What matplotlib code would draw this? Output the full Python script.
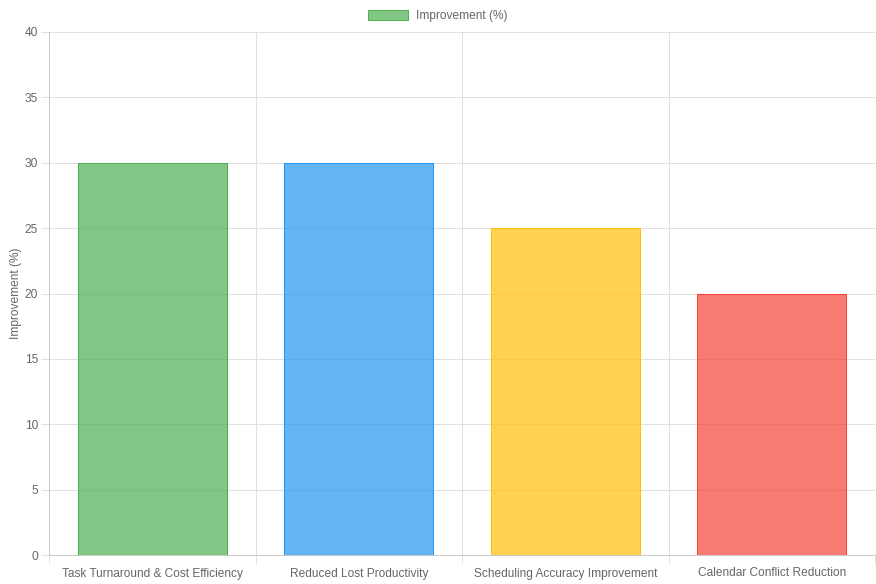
import matplotlib.pyplot as plt
from matplotlib.patches import Patch

plt.rcParams['font.family'] = ['Liberation Sans', 'DejaVu Sans']

# data
categories = ['Task Turnaround & Cost Efficiency', 'Reduced Lost Productivity',
              'Scheduling Accuracy Improvement', 'Calendar Conflict Reduction']
improvement = [30, 30, 25, 20]
y_ticks = [0, 5, 10, 15, 20, 25, 30, 35, 40]

fill_colors = [(76/255, 175/255, 80/255, 0.7), (33/255, 150/255, 243/255, 0.7),
               (255/255, 193/255, 7/255, 0.7), (244/255, 67/255, 54/255, 0.7)]
edge_colors = ['#4CAF50', '#2196F3', '#FFC107', '#F44336']

W, H = 876, 584
fig = plt.figure(figsize=(W / 100, H / 100), dpi=100)
# plot area in pixels: x 49..875, y 32..555
ax = fig.add_axes([49 / W, (H - 555) / H, (875 - 49) / W, (555 - 32) / H])
ax.set_axisbelow(True)

px = 0.72  # one pixel in points

x = range(len(categories))
ax.bar(x, improvement, width=0.72, color=fill_colors, edgecolor=edge_colors, linewidth=px, zorder=2)

ax.set_xlim(-0.5, len(categories) - 0.5)
ax.set_ylim(0, 40)
ax.set_yticks(y_ticks)
ax.set_xticks(list(x))
ax.set_xticklabels(categories)
ax.set_xticks([i - 0.5 for i in range(len(categories) + 1)], minor=True)

txt = '#666666'
grid_c = '#e0e0e0'
fs = 8.6
ax.tick_params(axis='x', which='major', length=0, pad=9, labelsize=fs, labelcolor=txt)
ax.tick_params(axis='x', which='minor', length=6, color=grid_c, width=px)
ax.tick_params(axis='y', length=6, color=grid_c, width=px, pad=2, labelsize=fs, labelcolor=txt)

ax.grid(True, axis='y', color=grid_c, linewidth=px, alpha=1)
ax.grid(True, axis='x', which='minor', color=grid_c, linewidth=px, alpha=1)

for side in ['top', 'right']:
    ax.spines[side].set_visible(False)
for side in ['left', 'bottom']:
    ax.spines[side].set_color('#c8c8c8')
    ax.spines[side].set_linewidth(px)

ax.set_ylabel('Improvement (%)', fontsize=fs, color=txt, labelpad=2)

handle = Patch(facecolor=fill_colors[0], edgecolor=edge_colors[0], linewidth=px)
fig.legend([handle], ['Improvement (%)'], loc='upper center', bbox_to_anchor=(0.5, 1 + 1 / H),
           frameon=False, fontsize=fs, labelcolor=txt, handlelength=3.35, handleheight=1.0,
           handletextpad=0.7)

fig.savefig('out.png', dpi=100)
